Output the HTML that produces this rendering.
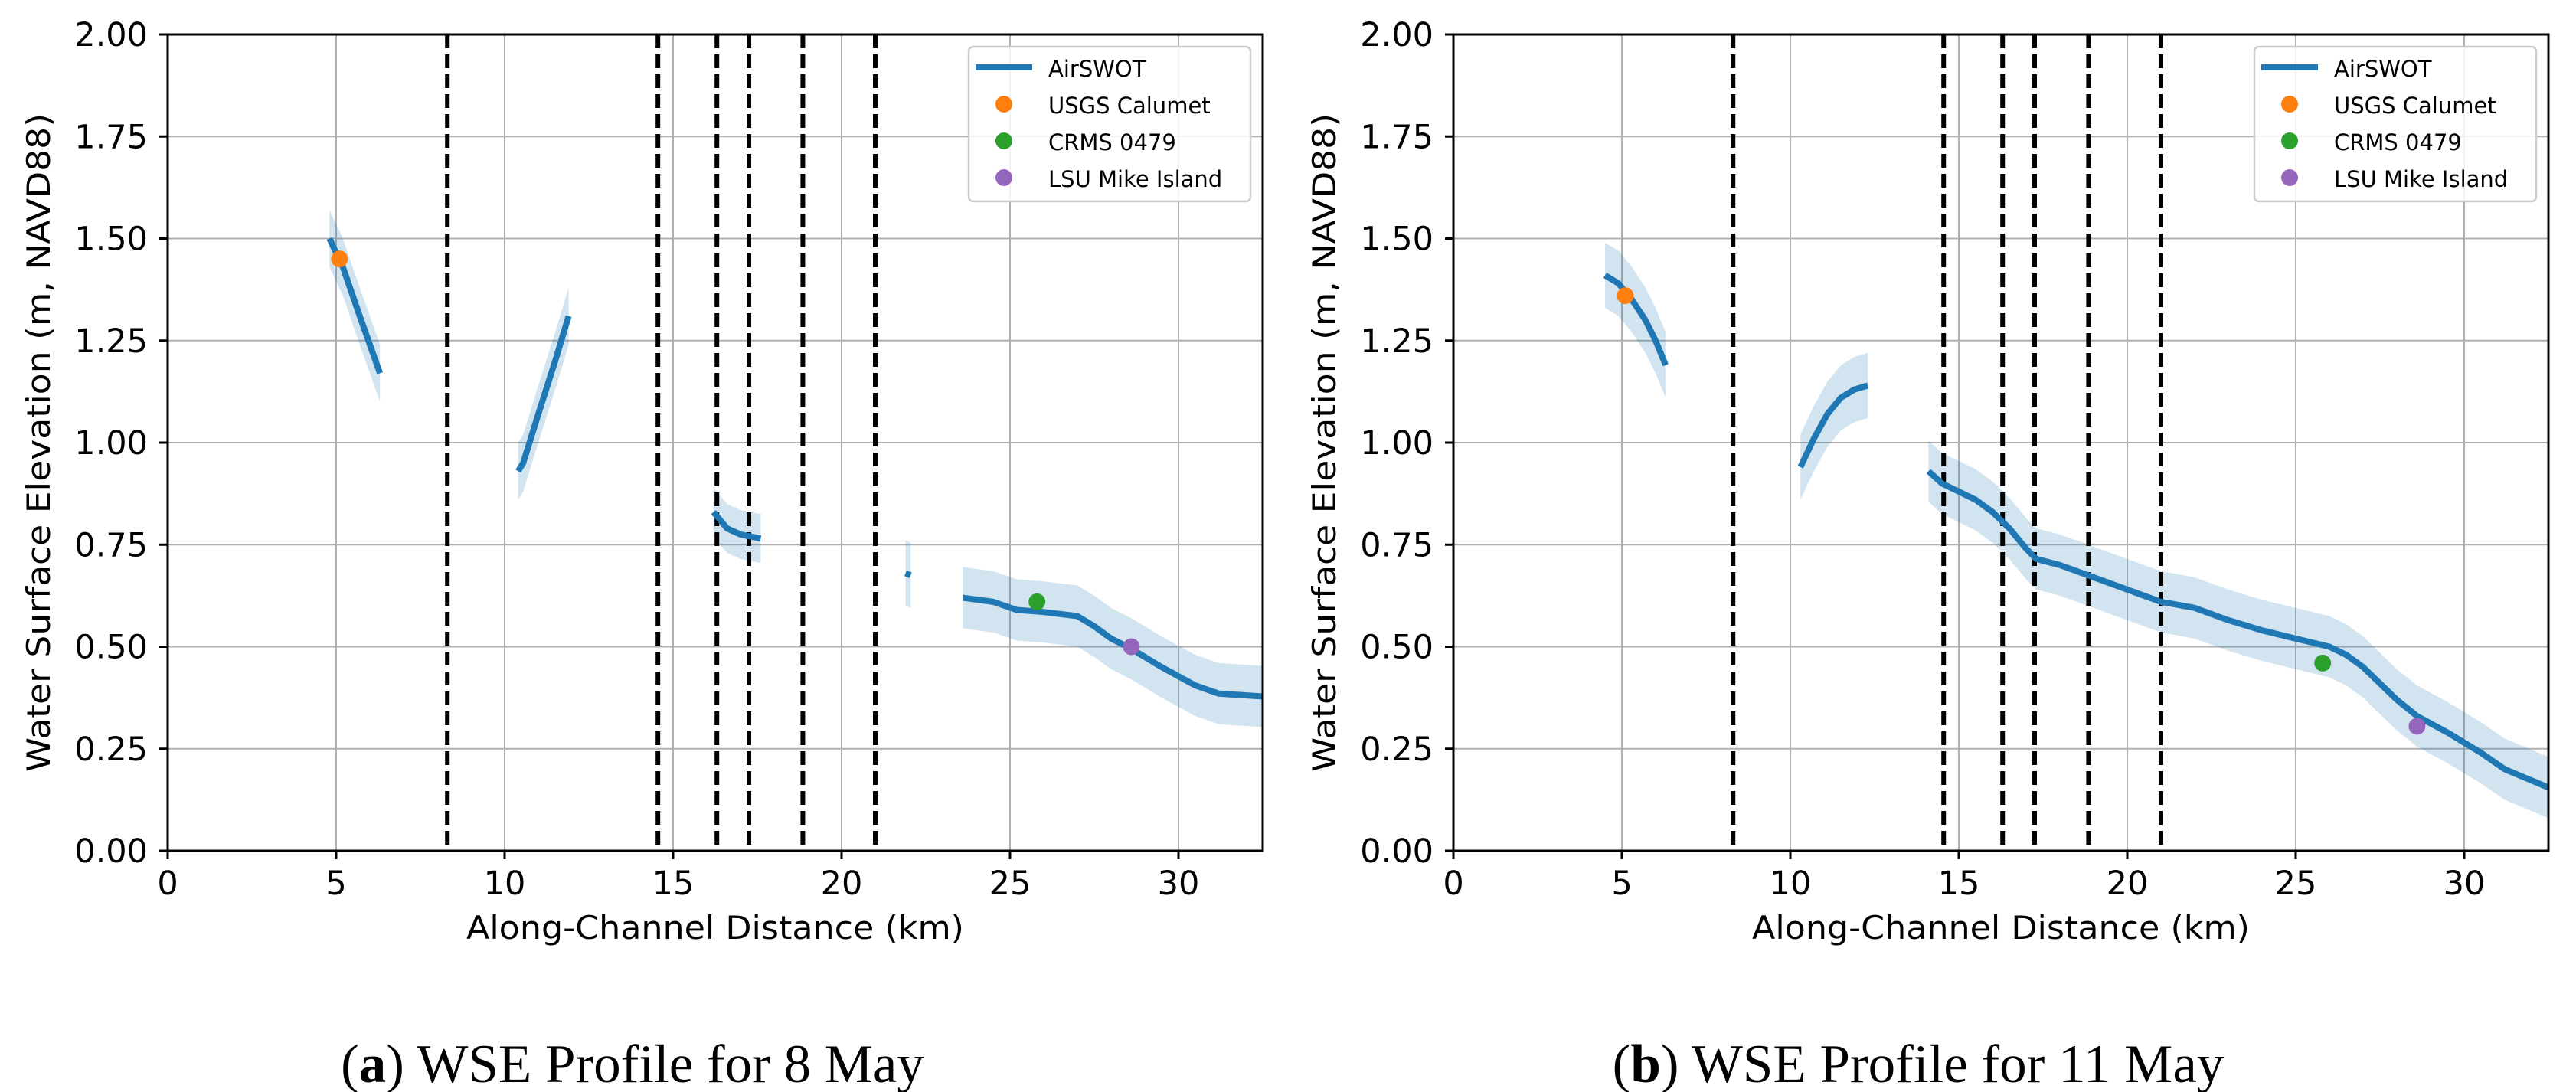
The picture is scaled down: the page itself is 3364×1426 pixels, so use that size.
<!DOCTYPE html>
<html><head><meta charset="utf-8"><style>
html,body{margin:0;padding:0;background:#fff;}
svg{display:block;}
text{font-family:"DejaVu Sans","Liberation Sans",sans-serif;}
.cap{font-family:"Liberation Serif",serif;}
</style></head><body>
<svg id="fig" width="3364" height="1426" viewBox="0 0 3364 1426" xmlns="http://www.w3.org/2000/svg"></svg>
<script>
// ---- data ----
const xTicks = [0,5,10,15,20,25,30];
const yTicks = [0,0.25,0.5,0.75,1.0,1.25,1.5,1.75,2.0];
const yTickLabels = ["0.00","0.25","0.50","0.75","1.00","1.25","1.50","1.75","2.00"];
const dashedKm = [8.3,14.55,16.3,17.25,18.85,21.0];
// 8 May segments: [km, wse]
const mayA_seg1 = [[4.8,1.50],[5.2,1.43],[5.7,1.31],[6.3,1.17]];
const mayA_seg2 = [[10.4,0.93],[10.55,0.95],[11.0,1.07],[11.5,1.20],[11.9,1.31]];
const mayA_seg3 = [[16.2,0.83],[16.6,0.79],[17.0,0.775],[17.6,0.765]];
const mayA_seg4 = [[21.9,0.68],[22.05,0.675]];
const mayA_seg5 = [[23.6,0.62],[24.5,0.61],[25.2,0.59],[26.0,0.585],[27.0,0.575],[27.5,0.55],[28.0,0.52],[28.6,0.495],[29.5,0.45],[30.5,0.405],[31.2,0.385],[32.5,0.378]];
const mayA_err = [0.07,0.07,0.06,0.08,0.075];
// 11 May segments
const mayB_seg1 = [[4.5,1.41],[4.9,1.39],[5.3,1.35],[5.7,1.30],[6.0,1.25],[6.3,1.19]];
const mayB_seg2 = [[10.3,0.94],[10.7,1.01],[11.1,1.07],[11.5,1.11],[11.9,1.13],[12.3,1.14]];
const mayB_seg3 = [[14.1,0.93],[14.5,0.90],[15.0,0.88],[15.5,0.86],[16.0,0.83],[16.5,0.79],[17.0,0.74],[17.3,0.715],[18.0,0.70],[19.0,0.67],[20.0,0.64],[21.0,0.61],[22.0,0.595],[23.0,0.565],[24.0,0.54],[25.0,0.52],[26.0,0.50],[26.5,0.48],[27.0,0.45],[27.5,0.41],[28.0,0.37],[28.6,0.33],[29.5,0.29],[30.5,0.24],[31.2,0.20],[32.5,0.155]];
const mayB_err = [0.08,0.08,0.075];
const stationNames = ["USGS Calumet","CRMS 0479","LSU Mike Island"];
const stationColors = ["#ff7f0e","#2ca02c","#9467bd"];
const stationKm = [5.1,25.8,28.6];
const stationA = [1.45,0.61,0.50];
const stationB = [1.36,0.46,0.305];

const NS="http://www.w3.org/2000/svg";
const svg=document.getElementById('fig');
function mk(tag,attrs,parent){const e=document.createElementNS(NS,tag);for(const k in attrs)e.setAttribute(k,attrs[k]);(parent||svg).appendChild(e);return e;}

function panel(id,L,segs,errs,stY,caption,letter){
  const R=L+44*32.5, T=45, B=1111;
  const X=v=>L+(v/32.5)*(R-L), Y=v=>B-(v/2)*(B-T);
  const g=mk('g',{});
  
  
  xTicks.forEach(t=>{const l=mk('line',{x1:X(t),x2:X(t),y1:T,y2:B,stroke:'#b0b0b0','stroke-width':2},g);
    });
  yTicks.forEach(t=>{const l=mk('line',{x1:L,x2:R,y1:Y(t),y2:Y(t),stroke:'#b0b0b0','stroke-width':2},g);
    });
  segs.forEach((s,i)=>{
    const up=s.map(p=>X(p[0])+','+Y(p[1]+errs[i]));
    const dn=s.slice().reverse().map(p=>X(p[0])+','+Y(p[1]-errs[i]));
    const b=mk('polygon',{points:up.concat(dn).join(' '),fill:'#1f77b4','fill-opacity':0.2},g);
    
  });
  dashedKm.forEach(k=>{const l=mk('line',{x1:X(k),x2:X(k),y1:T,y2:B,stroke:'#000','stroke-width':6,'stroke-dasharray':'18,8'},g);
    });
  segs.forEach(s=>{
    const p=mk('polyline',{points:s.map(q=>X(q[0])+','+Y(q[1])).join(' '),fill:'none',stroke:'#1f77b4','stroke-width':8,'stroke-linejoin':'round'},g);
    
  });
  stationKm.forEach((k,i)=>{const c=mk('circle',{cx:X(k),cy:Y(stY[i]),r:11,fill:stationColors[i]},g);
    });
  const f=mk('rect',{x:L,y:T,width:R-L,height:B-T,fill:'none',stroke:'#000','stroke-width':3},g);
  
  xTicks.forEach(t=>{mk('line',{x1:X(t),x2:X(t),y1:B,y2:B+11,stroke:'#000','stroke-width':3},g);
    const tx=mk('text',{x:X(t),y:1168,'font-size':43,'text-anchor':'middle'},g);tx.textContent=t;
    });
  yTicks.forEach((t,i)=>{mk('line',{x1:L-11,x2:L,y1:Y(t),y2:Y(t),stroke:'#000','stroke-width':3},g);
    const tx=mk('text',{x:L-26,y:Y(t)+15,'font-size':43,'text-anchor':'end'},g);tx.textContent=yTickLabels[i];
    });
  const xt=mk('text',{x:(L+R)/2,y:1226,'font-size':42,'text-anchor':'middle',textLength:650,lengthAdjust:'spacingAndGlyphs'},g);
  xt.textContent='Along-Channel Distance (km)';
  
  const yx=L-154;
  const yt=mk('text',{x:yx,y:578,'font-size':42,'text-anchor':'middle',transform:`rotate(-90 ${yx} 578)`,textLength:860,lengthAdjust:'spacingAndGlyphs'},g);
  yt.textContent='Water Surface Elevation (m, NAVD88)';
  
  const lx=R-384, ly=61;
  const lg=mk('g',{},g);
  
  mk('rect',{x:lx,y:ly,width:368,height:202,rx:6,fill:'#fff','fill-opacity':0.85,stroke:'#cccccc','stroke-width':2.5},lg);
  mk('line',{x1:lx+9,x2:lx+83,y1:ly+27,y2:ly+27,stroke:'#1f77b4','stroke-width':8},lg);
  const t0=mk('text',{x:lx+104,y:ly+39,'font-size':29},lg);t0.textContent='AirSWOT';
  
  stationNames.forEach((n,i)=>{
    mk('circle',{cx:lx+46,cy:ly+75+i*48,r:11,fill:stationColors[i]},lg);
    const t=mk('text',{x:lx+104,y:ly+87+i*48,'font-size':29},lg);t.textContent=n;
    
  });
  const c=mk('text',{x:(L+R)/2-108,y:1413,'font-size':71,'text-anchor':'middle',class:'cap'},g);
  const b1=mk('tspan',{},c);b1.textContent='(';
  const b2=mk('tspan',{'font-weight':'bold'},c);b2.textContent=letter;
  const b3=mk('tspan',{},c);b3.textContent=') '+caption;
  
}
panel('panel-8-may',219,[mayA_seg1,mayA_seg2,mayA_seg3,mayA_seg4,mayA_seg5],mayA_err,stationA,'WSE Profile for 8 May','a');
panel('panel-11-may',1898,[mayB_seg1,mayB_seg2,mayB_seg3],mayB_err,stationB,'WSE Profile for 11 May','b');
</script>
</body></html>
